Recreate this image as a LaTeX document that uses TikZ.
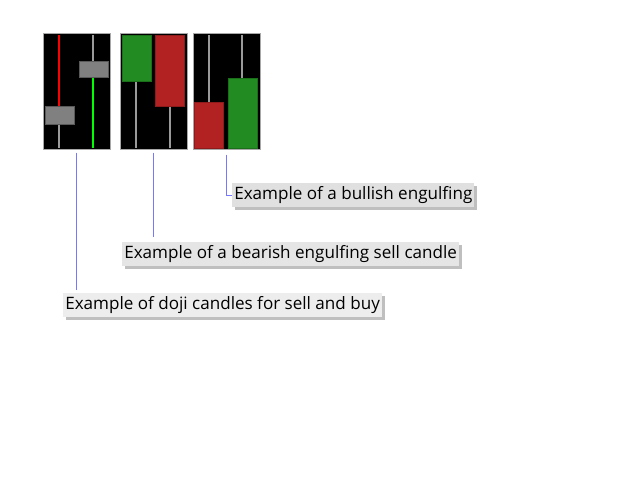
\documentclass[tikz,border=0pt]{standalone}
\usepackage{fontspec}
\setmainfont{Open Sans}
\usetikzlibrary{positioning,shadows}
\definecolor{bullgreen}{HTML}{228B22}
\definecolor{bearred}{HTML}{B22222}
\definecolor{dojigray}{HTML}{808080}
\definecolor{wickgray}{HTML}{9A9A9A}
\definecolor{framegray}{HTML}{A8A8A8}
\definecolor{calloutblue}{HTML}{7878FF}

\begin{document}
\begin{tikzpicture}[x=0.75pt,y=-0.75pt,node distance=6.75pt,
    panel/.style={rectangle,draw=framegray,fill=black,line width=0.75pt,
        minimum width=50.25pt,minimum height=87pt,inner sep=0pt},
    wick/.style={line width=1.5pt},
    body/.style={line width=0.5pt},
    note/.style={rectangle,anchor=west,inner xsep=1.5pt,inner ysep=0pt,
        minimum height=18pt,font=\fontsize{12.8}{15}\selectfont,
        drop shadow={shadow xshift=2pt,shadow yshift=-2pt,fill=black,opacity=.25}},
    callout/.style={draw=calloutblue,line width=0.75pt}]
\useasboundingbox (0,0) rectangle (640,480);

\node[panel] (doji) at (76.5,91) {};
\node[panel] (bear) [right=of doji] {};
\node[panel] (bull) [right=3.75pt of bear] {};

% doji pair
\draw[wick,red] (59,35) -- (59,106);
\draw[wick,wickgray] (59,124) -- (59,148);
\draw[body,draw=gray!70!black,fill=dojigray] (45,106) rectangle (74,124);
\draw[wick,wickgray] (93,35) -- (93,61);
\draw[wick,green] (93,77) -- (93,148);
\draw[body,draw=gray!70!black,fill=dojigray] (79,61) rectangle (108,77);

% bearish engulfing
\draw[wick,wickgray] (136,81) -- (136,148);
\draw[body,draw=bullgreen!80!black,fill=bullgreen] (122,35) rectangle (151,81);
\draw[wick,wickgray] (170,106) -- (170,148);
\draw[body,draw=bearred!80!black,fill=bearred] (155,35) rectangle (184,106);

% bullish engulfing
\draw[wick,wickgray] (209,35) -- (209,102);
\draw[body,draw=bearred!80!black,fill=bearred] (194,102) rectangle (223,148);
\draw[wick,wickgray] (242,35) -- (242,78);
\draw[body,draw=bullgreen!80!black,fill=bullgreen] (228,78) rectangle (257,148);

\node[note,fill=black!12] (bullnote) at (232,195) {Example of a bullish engulfing};
\node[note,fill=black!10] (bearnote) at (122,254) {Example of a bearish engulfing sell candle};
\node[note,fill=black!7] (dojinote) at (63,305) {Example of doji candles for sell and buy};

\draw[callout,shorten <=2.25pt,shorten >=2.25pt] (doji.south) -- (doji.south |- dojinote.north);
\draw[callout,shorten <=2.25pt,shorten >=3.75pt] (bear.south) -- (bear.south |- bearnote.north);
\draw[callout,shorten <=3.75pt] (bull.south) |- (bullnote.west);

\end{tikzpicture}
\end{document}
